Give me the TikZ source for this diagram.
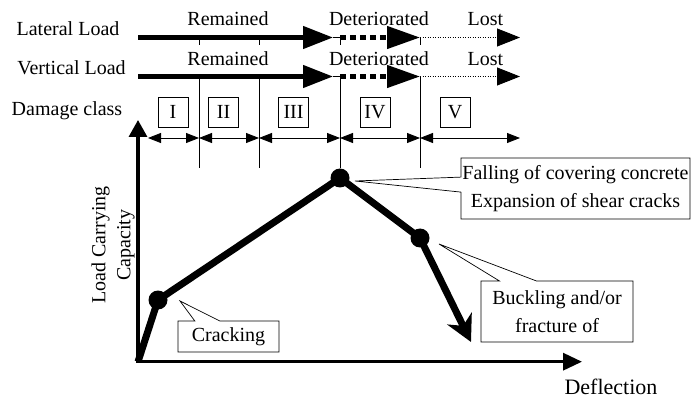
\documentclass[tikz,border=0pt]{standalone}
\usepackage{fontspec}
\setmainfont{Liberation Serif}
\usetikzlibrary{arrows.meta, shapes.callouts}
\tikzset{
  font=\fontsize{20}{28}\selectfont,
  rowlabel/.style={anchor=base},
  bigarrow/.style={line width=4.5pt, -{Triangle[length=30pt, width=22pt]}},
  dasharrow/.style={line width=4.5pt, dash pattern=on 6pt off 4pt, -{Triangle[length=33pt, width=22pt]}},
  dotarrow/.style={line width=0.9pt, dash pattern=on 1pt off 1.5pt, -{Triangle[length=23pt, width=18pt]}},
  classbox/.style={draw, line width=0.6pt, minimum size=30pt, inner sep=0pt},
  classspan/.style={line width=0.8pt, {Triangle[length=13pt, width=10pt]}-{Triangle[length=13pt, width=10pt]}},
  divider/.style={line width=0.8pt},
  axisline/.style={line width=3.3pt},
  pointdot/.style={circle, fill, inner sep=0pt, minimum size=19pt},
  capcurve/.style={line width=7pt},
  notebox/.style={rectangle callout, draw, fill=white, line width=0.7pt, inner sep=0pt, align=center}
}

\begin{document}
\begin{tikzpicture}[x=1pt, y=-1pt]
  \useasboundingbox (0,0) rectangle (691,398);

  % row labels
  \node[rowlabel] (latlabel) at (68,35.5) {Lateral Load};
  \node[rowlabel] (vertlabel) at (71.5,75) {Vertical Load};
  \node[rowlabel] (dmglabel) at (67,116) {Damage class};

  % state labels
  \node[rowlabel] (latrem) at (228,25.5) {Remained};
  \node[rowlabel] (latdet) at (379,25.5) {Deteriorated};
  \node[rowlabel] (latlost) at (485.5,25.5) {Lost};
  \node[rowlabel] (vertrem) at (228,65.5) {Remained};
  \node[rowlabel] (vertdet) at (379,65.5) {Deteriorated};
  \node[rowlabel] (vertlost) at (485.5,65.5) {Lost};

  % lateral load row
  \coordinate (l0) at (138,37.5);
  \coordinate (l2) at (333,37.5);
  \coordinate (l3) at (340,37.5);
  \coordinate (l4) at (420,37.5);
  \coordinate (l5) at (520,37.5);
  \draw[bigarrow] (l0) -- (l2);
  \draw[divider] (l2) -- (l3);
  \draw[dasharrow] (l3) -- (l4);
  \draw[dotarrow] (l4) -- (l5);
  \foreach \x in {199,259,340,420}
    \draw[divider] (\x,37.5) -- (\x,45);

  % vertical load row
  \coordinate (v0) at (138,76.5);
  \coordinate (v2) at (333,76.5);
  \coordinate (v3) at (340,76.5);
  \coordinate (v4) at (420,76.5);
  \coordinate (v5) at (520,76.5);
  \draw[bigarrow] (v0) -- (v2);
  \draw[divider] (v2) -- (v3);
  \draw[dasharrow] (v3) -- (v4);
  \draw[dotarrow] (v4) -- (v5);

  % damage classes
  \node[classbox] (cls1) at (173,112) {I};
  \node[classbox] (cls2) at (223.5,112) {II};
  \node[classbox] (cls3) at (293.5,112) {III};
  \node[classbox] (cls4) at (375,112) {IV};
  \node[classbox] (cls5) at (455,112) {V};

  \coordinate (d0) at (148,138);
  \coordinate (d1) at (199,138);
  \coordinate (d2) at (259,138);
  \coordinate (d3) at (340,138);
  \coordinate (d4) at (420,138);
  \coordinate (d5) at (520,138);
  \draw[classspan] (d0) -- (d1);
  \draw[classspan] (d1) -- (d2);
  \draw[classspan] (d2) -- (d3);
  \draw[classspan] (d3) -- (d4);
  \draw[classspan] (d4) -- (d5);

  % axes
  \coordinate (orig) at (138,361.7);
  \coordinate (ytip) at (138,120);
  \coordinate (xtip) at (582,361.7);
  \draw[axisline, {Triangle[length=17pt, width=18pt]}-{Triangle[length=19pt, width=17pt]}]
    (ytip) -- (orig) -- (xtip);
  \node[rotate=90, align=center, font=\fontsize{20}{25}\selectfont] (ylabel) at (113,245) {Load Carrying\\Capacity};
  \node[rowlabel, inner sep=0pt, font=\fontsize{22}{26}\selectfont] (xlabel) at (611,394) {Deflection};

  % capacity curve
  \node[pointdot] (crack) at (158,300) {};
  \node[pointdot] (peak) at (340,178) {};
  \node[pointdot] (buck) at (420,238) {};
  \coordinate (capend) at (471,342);
  \draw[capcurve, -{Stealth[length=26pt, width=27pt, inset=8pt]}]
    (orig) -- (crack.center) -- (peak.center) -- (buck.center) -- (capend);

  % dividers down to the curve
  \foreach \x in {199,259,420}
    \draw[divider] (\x,76.5) -- (\x,168);
  \draw[divider] (v3) -- (peak);

  % callouts
  \coordinate (crackpt) at (180,301);
  \coordinate (peakpt) at (355,181);
  \coordinate (buckpt) at (439,244);
  \node[notebox, minimum width=101pt, minimum height=31pt, callout absolute pointer={(crackpt)},
    callout pointer width=25pt] (crackbox) at (228.5,336.5) {Cracking};
  \node[notebox, minimum width=229pt, minimum height=61pt, callout absolute pointer={(peakpt)},
    callout pointer width=15pt] (fallbox) at (575.5,188.5) {Falling of covering concrete\\Expansion of shear cracks};
  \node[notebox, minimum width=152pt, minimum height=61pt, callout absolute pointer={(buckpt)},
    callout pointer width=37pt] (buckbox) at (557,311.5) {Buckling and/or\\fracture of};
\end{tikzpicture}
\end{document}
